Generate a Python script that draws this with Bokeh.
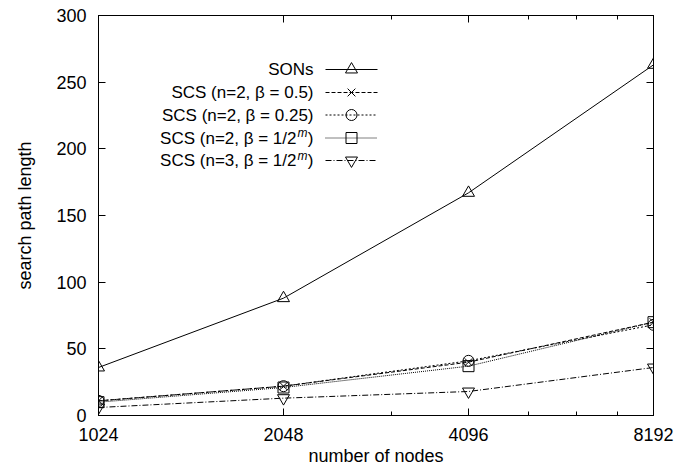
from bokeh.plotting import figure
from bokeh.models import FixedTicker, LogAxis, LinearAxis, Label, CustomJSTickFormatter
from bokeh.embed import file_html
from bokeh.resources import INLINE

# ---- data ----
nodes = [1024, 2048, 4096, 8192]
sons = [36, 88, 167, 263]
scs_n2_b05 = [11, 22, 40, 70]
scs_n2_b025 = [11, 22, 41, 68]
scs_n2_bm = [10, 21, 37, 70]
scs_n3_bm = [6, 13, 18, 36]

x_ticks = [1024, 2048, 4096, 8192]
x_minor = [3072, 5120, 6144, 7168]
y_ticks = [0, 50, 100, 150, 200, 250, 300]

legend_main = ["SONs", "SCS (n=2, \u03b2 = 0.5)", "SCS (n=2, \u03b2 = 0.25)",
               "SCS (n=2, \u03b2 = 1/2", "SCS (n=3, \u03b2 = 1/2"]
legend_sup = [None, None, None, "m", "m"]

# ---- layout ----
FONT = "Liberation Sans"
W, H = 678, 472
FL, FR, FT, FB = 98, 653, 15, 415  # frame in pixels
XMIN, XMAX, YMIN, YMAX = 1024, 8192, 0, 300

import math
def px2x(px):
    return XMIN * 2 ** ((px - FL) / (FR - FL) * math.log2(XMAX / XMIN))

def py2y(py):
    return YMIN + (FB - py) / (FB - FT) * (YMAX - YMIN)

p = figure(width=W, height=H, x_axis_type="log", x_range=(XMIN, XMAX), y_range=(YMIN, YMAX),
           output_backend="svg", toolbar_location=None,
           min_border_left=FL, min_border_right=W - FR, min_border_top=FT, min_border_bottom=H - FB)
p.xgrid.visible = False
p.ygrid.visible = False
p.outline_line_color = "black"
p.background_fill_color = "white"
p.border_fill_color = "white"

def style_axis(ax, ticks, minor, show_labels):
    ax.ticker = FixedTicker(ticks=ticks, minor_ticks=minor)
    ax.major_tick_in = 7
    ax.major_tick_out = 0
    ax.minor_tick_in = 4
    ax.minor_tick_out = 0
    ax.axis_line_color = "black"
    ax.major_tick_line_color = "black"
    ax.minor_tick_line_color = "black"
    ax.major_label_text_font = FONT
    ax.major_label_text_font_size = "18px"
    ax.major_label_text_color = "black"
    ax.axis_label_text_font = FONT
    ax.axis_label_text_font_size = "18px"
    ax.axis_label_text_font_style = "normal"
    ax.axis_label_text_color = "black"
    if show_labels:
        ax.formatter = CustomJSTickFormatter(code="return tick.toFixed(0);")
    else:
        ax.formatter = CustomJSTickFormatter(code="return '';")
        ax.major_label_text_font_size = "0px"

xa = p.xaxis[0]
style_axis(xa, x_ticks, x_minor, True)
xa.axis_label = "number of nodes"
xa.major_label_standoff = 12
xa.axis_label_standoff = 2

ya = p.yaxis[0]
style_axis(ya, y_ticks, [], True)
ya.axis_label = "search path length"
ya.major_label_standoff = 12
ya.axis_label_standoff = 18

top = LogAxis()
style_axis(top, x_ticks, x_minor, False)
p.add_layout(top, "above")
right = LinearAxis()
style_axis(right, y_ticks, [], False)
p.add_layout(right, "right")

series = [
    (sons, "solid", "triangle", 12),
    (scs_n2_b05, "4 2", "x", 11),
    (scs_n2_b025, "2 2", "circle", 11),
    (scs_n2_bm, "1 1", "square", 11),
    (scs_n3_bm, "6 2 1 2", "inverted_triangle", 12),
]

for vals, dash, marker, size in series:
    p.line(nodes, vals, line_color="black", line_width=1, line_dash=dash)
    p.scatter(nodes, vals, marker=marker, size=size, fill_color=None,
              line_color="black", line_width=1)

# ---- key (text left, sample right, as in the reference) ----
row_py = [69, 92, 114.5, 137.5, 160]
for i, (vals, dash, marker, size) in enumerate(series):
    yy = py2y(row_py[i])
    p.line([px2x(325), px2x(377)], [yy, yy], line_color="black", line_width=1, line_dash=dash)
    p.scatter([px2x(351)], [yy], marker=marker, size=size, fill_color=None,
              line_color="black", line_width=1)
    if legend_sup[i] is None:
        p.add_layout(Label(x=px2x(313), y=yy, text=legend_main[i], text_align="right",
                           text_baseline="middle", text_font=FONT, text_font_size="17px",
                           text_color="black"))
    else:
        p.add_layout(Label(x=px2x(313), y=yy, text=")", text_align="right",
                           text_baseline="middle", text_font=FONT, text_font_size="17px",
                           text_color="black"))
        p.add_layout(Label(x=px2x(307), y=yy, y_offset=5, text=legend_sup[i], text_align="right",
                           text_baseline="middle", text_font=FONT, text_font_size="12px",
                           text_font_style="italic", text_color="black"))
        p.add_layout(Label(x=px2x(296), y=yy, text=legend_main[i], text_align="right",
                           text_baseline="middle", text_font=FONT, text_font_size="17px",
                           text_color="black"))

open("out.html", "w").write(file_html(p, INLINE))
